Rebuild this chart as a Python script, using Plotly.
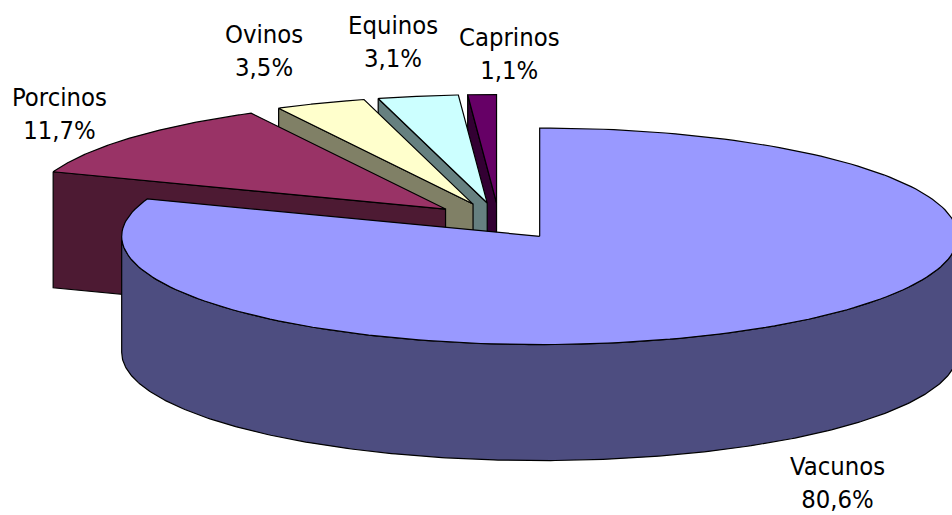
import numpy as np
import plotly.graph_objects as go

categories = ["Vacunos", "Porcinos", "Ovinos", "Equinos", "Caprinos"]
values = [80.6, 11.7, 3.5, 3.1, 1.1]
top_colors = ["#9999FF", "#993366", "#FFFFCC", "#CCFFFF", "#660066"]
side_colors = ["#4D4D80", "#4D1A33", "#808066", "#668080", "#330033"]

W, H = 952, 515
CX, CY = 499.0, 221.2      # undisplaced pie centre
RX, RY = 418.0, 108.3      # projected ellipse radii
DEPTH = 116.0              # extrusion height
EXPLODE = 0.17             # explosion fraction
FONT = "DejaVu Sans Condensed, Tahoma, DejaVu Sans, sans-serif"
FONT_SIZE = 25.4
label_anchor = {"Vacunos": (837, 482), "Porcinos": (59.5, 113), "Ovinos": (264, 50),
                "Equinos": (393, 41), "Caprinos": (509, 53)}


def px(a, ox, oy, r=1.0):
    a = np.asarray(a, dtype=float)
    return ox + r * RX * np.sin(a), oy - r * RY * np.cos(a)


fig = go.Figure()


def poly(xs, ys, color):
    fig.add_trace(go.Scatter(x=list(xs) + [xs[0]], y=list(ys) + [ys[0]], mode="lines", fill="toself",
                             fillcolor=color, line=dict(color="black", width=1.2),
                             hoverinfo="skip", showlegend=False))


edges = np.radians(np.concatenate([[0], np.cumsum(values) / sum(values) * 360]))
# painter's order: the far slices first, the large front slice last
for i in range(len(values) - 1, -1, -1):
    a0, a1 = edges[i], edges[i + 1]
    mid = (a0 + a1) / 2
    ox, oy = px(mid, CX, CY, EXPLODE)
    arc = np.linspace(a0, a1, 200)
    ax, ay = px(arc, ox, oy)
    # side wall: front part of the rim
    s0, s1 = max(a0, np.pi / 2), min(a1, 3 * np.pi / 2)
    if s1 > s0:
        sa = np.linspace(s0, s1, 300)
        sx, sy = px(sa, ox, oy)
        poly(np.concatenate([sx, sx[::-1]]), np.concatenate([sy, sy[::-1] + DEPTH]), side_colors[i])
    # cut face at the start of the slice, visible because it faces the viewer
    if i > 0:
        ex, ey = px(a0, ox, oy)
        poly([ex, ox, ox, ex], [ey, oy, oy + DEPTH, ey + DEPTH], side_colors[i])
    poly(np.concatenate([[ox], ax]), np.concatenate([[oy], ay]), top_colors[i])

for name, v in zip(categories, values):
    x, y = label_anchor[name]
    fig.add_annotation(x=x, y=y, xref="x", yref="y", showarrow=False, xanchor="center", yanchor="middle",
                       align="center", text=f"{name}<br>{v:.1f}%".replace(".", ","),
                       font=dict(family=FONT, size=FONT_SIZE, color="black"))

fig.update_layout(width=W, height=H, margin=dict(l=0, r=0, t=0, b=0), paper_bgcolor="white",
                  plot_bgcolor="white", showlegend=False,
                  xaxis=dict(range=[0, W], visible=False, fixedrange=True),
                  yaxis=dict(range=[H, 0], visible=False, fixedrange=True))
fig.write_html("out.html", config={"displayModeBar": False},
               post_script="document.body.style.margin='0';document.body.style.overflow='hidden';")
